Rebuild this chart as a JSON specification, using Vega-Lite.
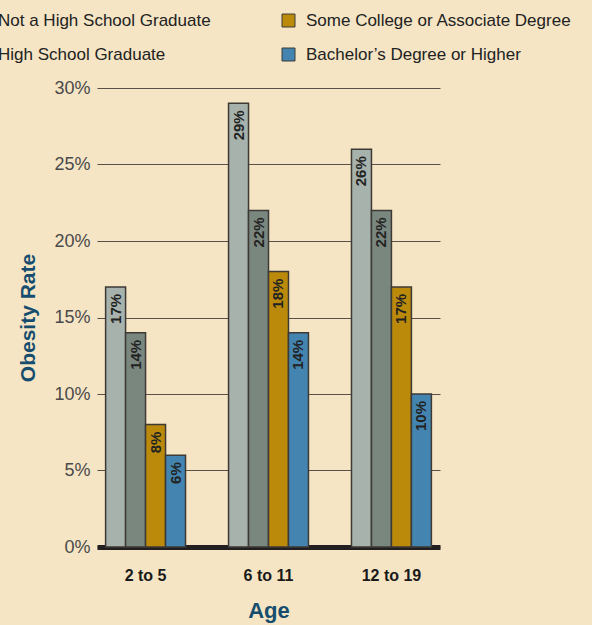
{
  "$schema": "https://vega.github.io/schema/vega-lite/v6.json",
  "autosize": "none",
  "width": 343,
  "height": 459,
  "padding": {"left": 97, "top": 88, "right": 152, "bottom": 78},
  "background": "#f5e5c5",
  "data": {
    "values": [
      {"age": "2 to 5", "education": "Not a High School Graduate", "rate": 0.17},
      {"age": "2 to 5", "education": "High School Graduate", "rate": 0.14},
      {"age": "2 to 5", "education": "Some College or Associate Degree", "rate": 0.08},
      {"age": "2 to 5", "education": "Bachelor’s Degree or Higher", "rate": 0.06},
      {"age": "6 to 11", "education": "Not a High School Graduate", "rate": 0.29},
      {"age": "6 to 11", "education": "High School Graduate", "rate": 0.22},
      {"age": "6 to 11", "education": "Some College or Associate Degree", "rate": 0.18},
      {"age": "6 to 11", "education": "Bachelor’s Degree or Higher", "rate": 0.14},
      {"age": "12 to 19", "education": "Not a High School Graduate", "rate": 0.26},
      {"age": "12 to 19", "education": "High School Graduate", "rate": 0.22},
      {"age": "12 to 19", "education": "Some College or Associate Degree", "rate": 0.17},
      {"age": "12 to 19", "education": "Bachelor’s Degree or Higher", "rate": 0.10}
    ]
  },
  "encoding": {
    "x": {
      "field": "age", "type": "nominal", "sort": ["2 to 5", "6 to 11", "12 to 19"],
      "scale": {"paddingInner": 0.35, "paddingOuter": 0.07},
      "title": "Age",
      "axis": {
        "labelAngle": 0, "ticks": false, "domain": true, "domainWidth": 5, "domainColor": "#231f20",
        "labelPadding": 20, "labelFont": "Liberation Sans", "labelFontSize": 16, "labelFontWeight": "bold", "labelColor": "#1a1a1a",
        "titleFont": "Liberation Sans", "titleFontSize": 22, "titleFontWeight": "bold", "titleColor": "#164d6e", "titlePadding": 17
      }
    },
    "xOffset": {
      "field": "education", "type": "nominal",
      "sort": ["Not a High School Graduate", "High School Graduate", "Some College or Associate Degree", "Bachelor’s Degree or Higher"],
      "scale": {"paddingInner": 0, "paddingOuter": 0}
    },
    "y": {
      "field": "rate", "type": "quantitative",
      "scale": {"domain": [0, 0.3]},
      "title": "Obesity Rate",
      "axis": {
        "values": [0, 0.05, 0.1, 0.15, 0.2, 0.25, 0.3], "format": ".0%",
        "grid": true, "gridColor": "#5b5048", "gridWidth": 1.2, "gridOpacity": 1,
        "ticks": false, "domain": false, "labelPadding": 7,
        "labelFont": "Liberation Sans", "labelFontSize": 18, "labelColor": "#4a4a4a",
        "titleFont": "Liberation Sans", "titleFontSize": 21, "titleFontWeight": "bold", "titleColor": "#164d6e", "titlePadding": 15
      }
    }
  },
  "layer": [
    {
      "mark": {"type": "bar", "stroke": "#3d3a36", "strokeWidth": 1.5},
      "encoding": {
        "color": {
          "field": "education", "type": "nominal",
          "scale": {
            "domain": ["Not a High School Graduate", "High School Graduate", "Some College or Associate Degree", "Bachelor’s Degree or Higher"],
            "range": ["#a6b2ab", "#7a877f", "#bb8a0b", "#4385b0"]
          },
          "legend": {
            "title": null, "orient": "none", "legendX": -125, "legendY": -76, "columns": 2,
            "columnPadding": 69, "rowPadding": 16,
            "symbolType": "square", "symbolSize": 169, "symbolStrokeColor": "#3d3a36", "symbolStrokeWidth": 1, "symbolOpacity": 1,
            "labelFont": "Liberation Sans", "labelFontSize": 17, "labelColor": "#222222", "labelLimit": 400, "labelOffset": 9
          }
        }
      }
    },
    {
      "mark": {"type": "text", "angle": 270, "align": "right", "baseline": "middle", "dx": -7, "font": "Liberation Sans", "fontSize": 15, "fontWeight": "bold", "color": "#222222"},
      "encoding": {
        "text": {"field": "rate", "type": "quantitative", "format": ".0%"}
      }
    }
  ],
  "config": {"view": {"stroke": null}}
}
